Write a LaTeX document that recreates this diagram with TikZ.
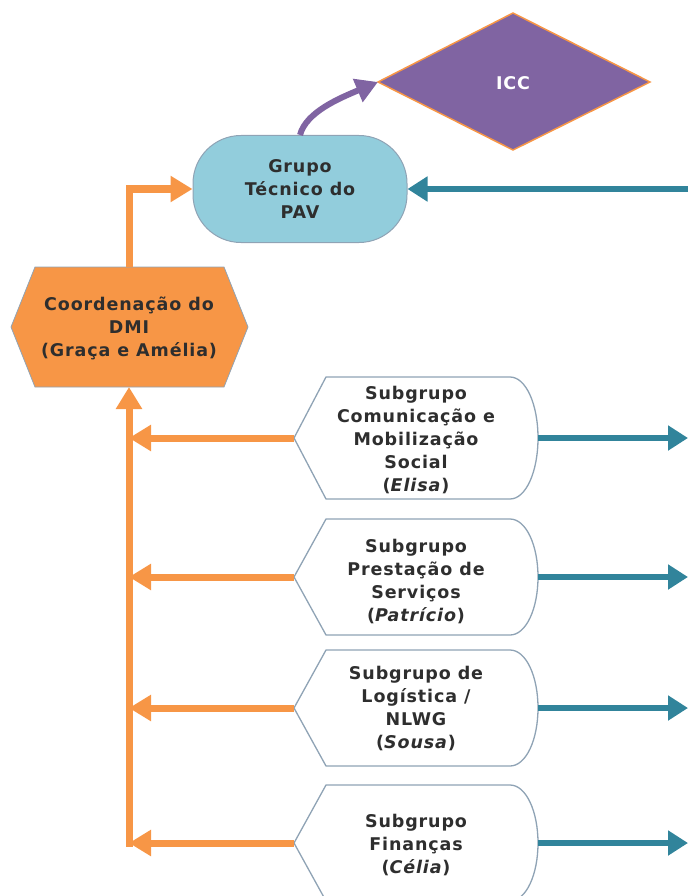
\documentclass[tikz,border=0pt]{standalone}
\usepackage{fontspec}
\setmainfont[LetterSpace=5]{DejaVu Sans}
\usetikzlibrary{arrows.meta}
\definecolor{dmiorange}{HTML}{F79646}
\definecolor{dmiteal}{HTML}{31849B}
\definecolor{dmiblue}{HTML}{92CDDC}
\definecolor{dmipurple}{HTML}{8064A2}
\definecolor{dmigray}{HTML}{8FA3B5}
\definecolor{dmitext}{HTML}{2E2E2E}
\tikzset{
  txt/.style={font=\bfseries\fontsize{17.5}{23}\selectfont, text=dmitext, align=center, inner sep=0pt},
  subshape/.style={draw=dmigray, fill=white, line width=1.3pt},
  oarrow/.style={draw=dmiorange, line width=7pt, -{Triangle[length=22pt,width=25pt]}},
  tarrow/.style={draw=dmiteal, line width=6.5pt, -{Triangle[length=20pt,width=24pt]}},
  parrow/.style={draw=dmipurple, line width=6pt, -{Triangle[length=22pt,width=24pt]}},
}
\newcommand{\subshapeat}[2]{% #1 centre y, #2 half height
  \path[subshape] (294,#1) -- (326,#1-#2) -- (510,#1-#2)
    .. controls (526,#1-#2) and (538,#1-#2*0.55) .. (538,#1)
    .. controls (538,#1+#2*0.55) and (526,#1+#2) .. (510,#1+#2)
    -- (326,#1+#2) -- cycle;}
\begin{document}
\begin{tikzpicture}[x=1pt,y=-1pt]
\useasboundingbox (0,0) rectangle (688,896);
% ICC diamond
\path[fill=dmipurple, draw=dmiorange, line width=1.5pt] (378,82) -- (513,13) -- (650,82) -- (513,150) -- cycle;
\node[txt, text=white] (icc) at (513,83) {ICC};
\coordinate (iccw) at (378,82);
% Grupo Tecnico
\node[txt, draw=dmigray, fill=dmiblue, line width=1pt, rounded corners=48pt, minimum width=214pt, minimum height=107pt] (gt) at (300,189) {Grupo\\Técnico do\\PAV};
% Coordenacao hexagon
\path[fill=dmiorange, draw=dmigray, line width=0.8pt] (11,327) -- (35,267) -- (224,267) -- (248,327) -- (224,387) -- (35,387) -- cycle;
\node[txt] (dmi) at (129,328) {Coordenação do\\DMI\\(Graça e Amélia)};
\coordinate (dmitop) at (129,267);
\coordinate (dmibot) at (129,387);
% subgroups
\subshapeat{438}{61}
\node[txt] (s1) at (416,440) {Subgrupo\\Comunicação e\\Mobilização\\Social\\(\textit{Elisa})};
\subshapeat{577}{58}
\node[txt] (s2) at (416,581) {Subgrupo\\Prestação de\\Serviços\\(\textit{Patrício})};
\subshapeat{708}{58}
\node[txt] (s3) at (416,708) {Subgrupo de\\Logística /\\NLWG\\(\textit{Sousa})};
\subshapeat{843}{58}
\node[txt] (s4) at (416,845) {Subgrupo\\Finanças\\(\textit{Célia})};
\coordinate (s1w) at (294,438); \coordinate (s1e) at (538,438);
\coordinate (s2w) at (294,577); \coordinate (s2e) at (538,577);
\coordinate (s3w) at (294,708); \coordinate (s3e) at (538,708);
\coordinate (s4w) at (294,843); \coordinate (s4e) at (538,843);
\coordinate (bus) at (129,846.5);
\coordinate (t0) at (688,189);
\coordinate (t1) at (688,438);
\coordinate (t2) at (688,577);
\coordinate (t3) at (688,708);
\coordinate (t4) at (688,843);
% orange connectors
\draw[oarrow] (dmitop) |- (gt.west);
\draw[oarrow] (bus) -- (dmibot);
\foreach \s in {s1w,s2w,s3w,s4w} \draw[oarrow] (\s) -- (\s -| dmibot);
% teal connectors
\draw[tarrow] (t0) -- (gt.east);
\draw[tarrow] (s1e) -- (t1);
\draw[tarrow] (s2e) -- (t2);
\draw[tarrow] (s3e) -- (t3);
\draw[tarrow] (s4e) -- (t4);
% purple connector
\draw[parrow] (gt.north) .. controls (306,112) and (340,98) .. (iccw);
\end{tikzpicture}
\end{document}
